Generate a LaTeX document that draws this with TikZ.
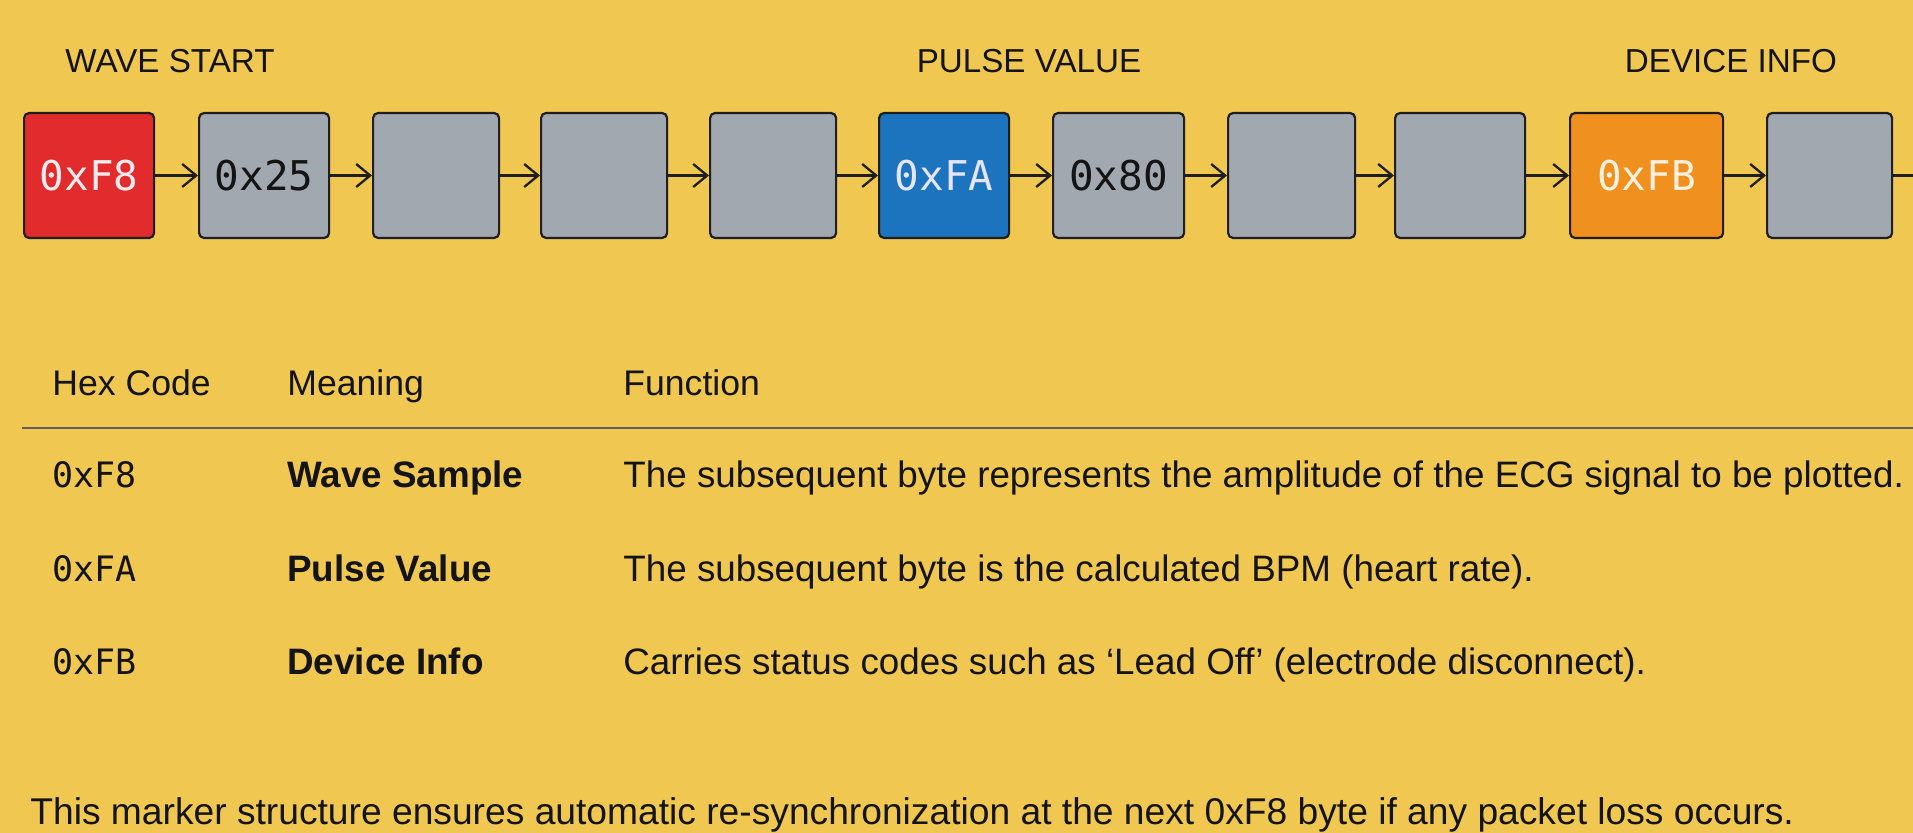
\documentclass[tikz,border=0pt]{standalone}
\usepackage{fontspec}
\setmainfont{Liberation Sans}
\newfontfamily\hexfont{DejaVu Sans Mono}
\usetikzlibrary{arrows.meta}
\definecolor{bgc}{HTML}{F0C751}
\definecolor{redc}{HTML}{E12B2D}
\definecolor{bluec}{HTML}{1C74BE}
\definecolor{orangec}{HTML}{F0901E}
\definecolor{grayc}{HTML}{A2A8B0}
\definecolor{linec}{HTML}{1E1E1E}
\definecolor{rulec}{HTML}{5E5E5E}
\definecolor{txtc}{HTML}{141414}
\tikzset{
  bytebox/.style={draw=linec, line width=1.1pt, rounded corners=2.5pt,
    minimum height=62.5pt, inner sep=0pt, anchor=west,
    font=\hexfont\fontsize{20.5}{22}\selectfont},
  graybox/.style={bytebox, fill=grayc, text=txtc},
  arr/.style={draw=linec, line width=1.15pt, -{Straight Barb[length=7pt,width=11.5pt]}},
  toplabel/.style={anchor=base, inner sep=0pt, text=txtc, font=\fontsize{16.6}{20}\selectfont},
  headtxt/.style={anchor=base west, inner sep=0pt, text=txtc, font=\fontsize{17.8}{20}\selectfont},
  hextxt/.style={anchor=base west, inner sep=0pt, text=txtc, font=\hexfont\fontsize{17.5}{20}\selectfont},
  meantxt/.style={anchor=base west, inner sep=0pt, text=txtc, font=\bfseries\fontsize{18.4}{20}\selectfont},
  functxt/.style={anchor=base west, inner sep=0pt, text=txtc, font=\fontsize{18.4}{20}\selectfont},
  notetxt/.style={anchor=base west, inner sep=0pt, text=txtc, font=\fontsize{18.6}{20}\selectfont},
}
\begin{document}
\begin{tikzpicture}[x=0.5pt,y=-0.5pt]
\fill[bgc] (0,0) rectangle (1913,833);
\clip (0,0) rectangle (1913,833);

% top labels
\node[toplabel] (lw) at (170,73) {WAVE START};
\node[toplabel] (lp) at (1029,73) {PULSE VALUE};
\node[toplabel] (ld) at (1731,73) {DEVICE INFO};

% byte boxes
\node[bytebox, fill=redc, text=white!92!red, minimum width=65pt] (b1) at (23,175.5) {0xF8};
\node[graybox, minimum width=65pt] (b2) at (198,175.5) {0x25};
\node[graybox, minimum width=63pt] (b3) at (372,175.5) {};
\node[graybox, minimum width=63pt] (b4) at (540,175.5) {};
\node[graybox, minimum width=63pt] (b5) at (709,175.5) {};
\node[bytebox, fill=bluec, text=white!90!blue, minimum width=65pt] (b6) at (878,175.5) {0xFA};
\node[graybox, minimum width=65.5pt] (b7) at (1052,175.5) {0x80};
\node[graybox, minimum width=63.5pt] (b8) at (1227,175.5) {};
\node[graybox, minimum width=65pt] (b9) at (1394,175.5) {};
\node[bytebox, fill=orangec, text=white!88!orange, minimum width=76.5pt] (b10) at (1569,175.5) {0xFB};
\node[graybox, minimum width=62.5pt] (b11) at (1766,175.5) {};
\coordinate (bout) at (1945,175.5);

\foreach \a/\b in {b1/b2,b2/b3,b3/b4,b4/b5,b5/b6,b6/b7,b7/b8,b8/b9,b9/b10,b10/b11}
  \draw[arr] (\a.east) -- (\b.west);
\draw[arr] (b11.east) -- (bout);

% table
\node[headtxt] (h1) at (52,396) {Hex Code};
\node[headtxt] (h2) at (287,396) {Meaning};
\node[headtxt] (h3) at (623,396) {Function};
\coordinate (rl) at (22,428);
\coordinate (rr) at (1913,428);
\draw[rulec, line width=0.8pt] (rl) -- (rr);

\node[hextxt] (r1a) at (52,488) {0xF8};
\node[meantxt] (r1b) at (287,488) {Wave Sample};
\node[functxt] (r1c) at (623,488) {The subsequent byte represents the amplitude of the ECG signal to be plotted.};

\node[hextxt] (r2a) at (52,582) {0xFA};
\node[meantxt] (r2b) at (287,582) {Pulse Value};
\node[functxt] (r2c) at (623,582) {The subsequent byte is the calculated BPM (heart rate).};

\node[hextxt] (r3a) at (52,675) {0xFB};
\node[meantxt] (r3b) at (287,675) {Device Info};
\node[functxt] (r3c) at (623,675) {Carries status codes such as ‘Lead Off’ (electrode disconnect).};

\node[notetxt] (note) at (30,825) {This marker structure ensures automatic re-synchronization at the next 0xF8 byte if any packet loss occurs.};
\end{tikzpicture}
\end{document}
